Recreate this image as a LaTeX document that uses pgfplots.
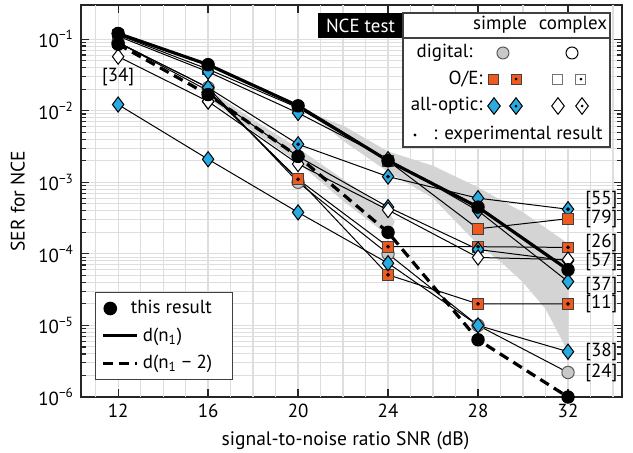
\documentclass[border=0pt]{standalone}
\usepackage{fontspec}
\setmainfont{PT Sans}
\usepackage{pgfplots}
\pgfplotsset{compat=1.18}
\usetikzlibrary{shapes.geometric}
\definecolor{cblue}{RGB}{41,171,226}
\definecolor{corange}{RGB}{240,90,30}
\definecolor{cgray}{RGB}{200,200,200}
\definecolor{cband}{RGB}{212,212,212}
\definecolor{cgrid}{RGB}{222,222,222}
\newcommand{\lf}{\fontsize{9.5}{11}\selectfont}
\pgfplotsset{
  thin/.style={black, line width=0.5bp, forget plot, mark options={solid, line width=0.5bp}},
  bd/.style={thin, mark=diamond*, mark size=3.8bp, mark options={fill=cblue, draw=black}},
  wd/.style={thin, mark=diamond*, mark size=3.8bp, mark options={fill=white, draw=black}},
  os/.style={thin, mark=square*, mark size=2.7bp, mark options={fill=corange, draw=black!75}},
  gc/.style={thin, mark=*, mark size=3.1bp, mark options={fill=cgray, draw=black!65}},
  dots/.style={only marks, mark=*, mark size=0.75bp, black, forget plot},
}
\tikzset{
  gl/.style={line width=0.5bp, inner sep=0pt},
  lab/.style={font=\lf, anchor=west, inner sep=0pt},
}
\begin{document}
\begin{tikzpicture}
\begin{axis}[
  scale only axis, width=270.5bp, height=196bp,
  /pgf/number format/assume math mode=true,
  xmin=10.35, xmax=34.4, ymode=log, ymin=1e-6, ymax=0.3,
  xtick={12,16,20,24,28,32},
  xticklabels={12,16,20,24,28,32},
  ytick={1e-6,1e-5,1e-4,1e-3,1e-2,1e-1},
  yticklabels={10\textsuperscript{−6},10\textsuperscript{−5},10\textsuperscript{−4},10\textsuperscript{−3},10\textsuperscript{−2},10\textsuperscript{−1}},
  extra x ticks={11,13,14,15,17,18,19,21,22,23,25,26,27,29,30,31,33,34},
  extra x tick labels={},
  extra x tick style={grid=major, major tick length=0pt},
  grid=both,
  major grid style={cgrid, line width=0.6bp},
  minor grid style={cgrid, line width=0.5bp},
  major tick length=4bp, minor tick length=2.5bp,
  tick style={black!85, line width=0.6bp},
  axis line style={black!85, line width=0.8bp},
  tick label style={font=\lf},
  label style={font=\fontsize{9.8}{11}\selectfont},
  xlabel style={xshift=-3bp},
  xlabel={signal-to-noise ratio SNR (dB)},
  ylabel={SER for NCE},
  legend style={at={(0.026,0.043)}, anchor=south west, draw=black!75, line width=0.6bp,
    font=\lf, row sep=1.5bp, inner xsep=3bp, inner ysep=2bp, cells={anchor=west}},
  legend image code/.code={\draw[#1] (0bp,0bp) -- (17bp,0bp);},
]
% gray bands
\addplot[fill=cband, draw=none, forget plot] coordinates {
 (16,0.02) (18,0.0075) (20,0.003) (22,0.0011) (24,0.0004) (24.3,0.00028)
 (24,0.00018) (22,0.00055) (20,0.0019) (18,0.0052) (16,0.015)} --cycle;
\addplot[fill=cband, draw=none, forget plot] coordinates {
 (20.5,0.0094) (22,0.0062) (24,0.0027) (26,0.0017) (28,0.00085) (30,0.00038) (32,0.00014)
 (32,4.3e-6) (31,1.7e-5) (30,4e-5) (29,7.8e-5) (28,1.35e-4) (26,6e-4) (24,0.0014) (22,0.0038)} --cycle;
% reference series
\addplot[gc] coordinates {(12,0.09) (16,0.021) (20,0.001) (24,0.0001) (28,1e-5) (32,2.2e-6)};
\addplot[os] coordinates {(12,0.09) (16,0.019) (20,0.0011) (24,0.000126) (28,0.000126) (32,0.000123)};
\addplot[os] coordinates {(16,0.019) (20,0.0011) (24,5.1e-5) (28,2e-5) (32,2e-5)};
\addplot[bd] coordinates {(16,0.017) (20,0.0023) (24,0.00045) (28,0.000115) (32,8e-5)};
\addplot[wd] coordinates {(12,0.057) (16,0.0135)};
\addplot[wd] coordinates {(16,0.0135) (20,0.0018) (24,0.00041) (28,8.9e-5) (32,8.3e-5)};
\addplot[bd] coordinates {(12,0.0122) (16,0.0021) (20,0.00038) (24,7.4e-5) (28,1e-5) (32,4.3e-6)};
\addplot[bd] coordinates {(12,0.09) (16,0.021) (20,0.0034) (24,0.0012) (28,0.0006) (32,0.00042)};
\addplot[os] coordinates {(12,0.115) (16,0.038) (20,0.011) (24,0.002) (28,0.000224) (32,0.00031)};
\addplot[bd] coordinates {(12,0.11) (16,0.035) (20,0.0093) (24,0.0021) (28,0.0004) (32,4.1e-5)};
% experimental dots
\addplot[dots] coordinates {(20,0.0011) (24,0.000126) (28,0.000126) (32,0.000123) (24,5.1e-5) (28,2e-5) (32,2e-5)
 (20,0.0034) (24,0.0012) (32,0.00042)};
% this result
\addplot[black, line width=1.6bp, mark=*, mark size=3.1bp, mark options={line width=0.5bp}, forget plot] coordinates {
 (12,0.12) (16,0.044) (20,0.0117) (24,0.002) (28,0.00045) (32,6e-5)};
\addplot[black, line width=1.6bp, dash pattern=on 5bp off 3bp, mark=*, mark size=3.1bp, mark options={solid, line width=0.5bp}, forget plot] coordinates {
 (12,0.085) (16,0.0168) (20,0.0023) (24,0.0002) (28,6.3e-6) (32,1e-6)};
% legend
\addlegendimage{legend image code/.code={\fill[black] (3.5bp,0bp) circle (3.1bp);}}
\addlegendentry{\hspace*{-6bp}this result}
\addlegendimage{black, line width=1.6bp}
\addlegendentry{d(n\textsubscript{1})}
\addlegendimage{black, line width=1.6bp, dash pattern=on 5bp off 3bp}
\addlegendentry{d(n\textsubscript{1} − 2)\hspace*{5bp}}
% labels
\node[font=\lf] at (axis cs:12,0.03) {[34]};
\node[lab] at (axis cs:32.75,5.6e-4) {[55]};
\node[lab] at (axis cs:32.75,3.11e-4) {[79]};
\node[lab] at (axis cs:32.75,1.44e-4) {[26]};
\node[lab] at (axis cs:32.75,7.8e-5) {[57]};
\node[lab] at (axis cs:32.75,3.6e-5) {[37]};
\node[lab] at (axis cs:32.75,2.0e-5) {[11]};
\node[lab] at (axis cs:32.75,4.3e-6) {[38]};
\node[lab] at (axis cs:32.75,2.2e-6) {[24]};
% title + legend box
\fill[black] (rel axis cs:0.4381,0.9796) rectangle (rel axis cs:0.5952,0.9158);
\node[font=\lf, text=white] at (rel axis cs:0.5166,0.948) {NCE test};
\draw[black!75, fill=white, line width=0.6bp] (rel axis cs:0.5952,0.9796) rectangle (rel axis cs:0.9778,0.6378);
\draw[black!75, line width=0.6bp] (rel axis cs:0.5952,0.9158) -- (rel axis cs:0.9778,0.9158);
\node[font=\lf] at (rel axis cs:0.7745,0.949) {simple};
\node[font=\lf] at (rel axis cs:0.9094,0.949) {complex};
\node[font=\lf, anchor=east, inner sep=0pt] at (rel axis cs:0.7246,0.8776) {digital:};
\node[font=\lf, anchor=east, inner sep=0pt] at (rel axis cs:0.7431,0.8112) {O/E:};
\node[font=\lf, anchor=east, inner sep=0pt] at (rel axis cs:0.7431,0.7423) {all-optic:};
\node[gl, circle, fill=cgray, draw=black!65, minimum size=6bp] at (rel axis cs:0.7800,0.8776) {};
\node[gl, circle, fill=white, draw=black, minimum size=6bp] at (rel axis cs:0.9076,0.8776) {};
\node[gl, rectangle, fill=corange, draw=black!75, minimum size=5bp] at (rel axis cs:0.7634,0.8112) {};
\node[gl, rectangle, fill=corange, draw=black!75, minimum size=5bp] at (rel axis cs:0.8041,0.8112) {};
\node[gl, rectangle, fill=white, draw=black!55, minimum size=5bp] at (rel axis cs:0.8799,0.8112) {};
\node[gl, rectangle, fill=white, draw=black!55, minimum size=5bp] at (rel axis cs:0.9242,0.8112) {};
\node[gl, diamond, fill=cblue, draw=black, minimum width=6.5bp, minimum height=8.5bp] at (rel axis cs:0.7634,0.7423) {};
\node[gl, diamond, fill=cblue, draw=black, minimum width=6.5bp, minimum height=8.5bp] at (rel axis cs:0.8041,0.7423) {};
\node[gl, diamond, fill=white, draw=black, minimum width=6.5bp, minimum height=8.5bp] at (rel axis cs:0.8817,0.7423) {};
\node[gl, diamond, fill=white, draw=black, minimum width=6.5bp, minimum height=8.5bp] at (rel axis cs:0.9261,0.7423) {};
\fill[black] (rel axis cs:0.8041,0.8112) circle (0.75bp);
\fill[black] (rel axis cs:0.9242,0.8112) circle (0.75bp);
\fill[black] (rel axis cs:0.8041,0.7423) circle (0.75bp);
\fill[black] (rel axis cs:0.9261,0.7423) circle (0.75bp);
\fill[black] (rel axis cs:0.6174,0.6684) circle (0.8bp);
\node[lab] at (rel axis cs:0.6506,0.6684) {: experimental result};
\coordinate (SW) at (rel axis cs:0,0);
\coordinate (NE) at (rel axis cs:1,1);
\end{axis}
\pgfresetboundingbox
\path[use as bounding box] ([shift={(-40.5bp,-28bp)}]SW) rectangle ([shift={(5.5bp,2.5bp)}]NE);
\end{tikzpicture}
\end{document}
